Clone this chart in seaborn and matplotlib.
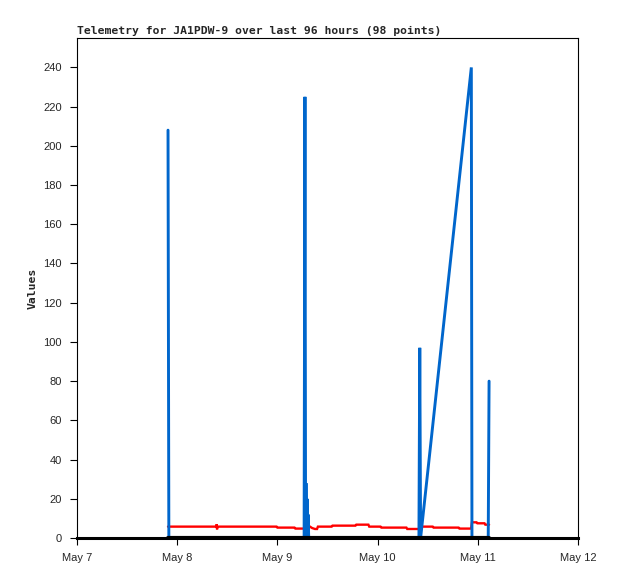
import numpy as np
import pandas as pd
import matplotlib
matplotlib.use("Agg")
import matplotlib.pyplot as plt
import matplotlib.dates as mdates
import seaborn as sns

# hours after May 7 00:00 and values
blue_hours = [21.8, 22.0, 54.4, 54.6, 54.75, 54.85, 55.0, 55.1, 55.25, 55.35, 55.5,
              81.9, 82.1, 82.3, 94.45, 94.6, 98.5, 98.7]
blue_vals = [208, 0, 0, 225, 0, 28, 0, 20, 0, 12, 0,
             0, 97, 0, 240, 0, 0, 80]

red_hours = [21.8, 33.4, 33.45, 33.55, 33.6, 47.8, 48.0, 52.1, 52.3, 54.6, 55.8,
             56.3, 57.0, 57.5, 57.7, 61.0, 61.2, 66.7, 66.9, 69.8, 70.0, 72.7,
             72.9, 78.9, 79.1, 82.0, 82.2, 85.2, 85.4, 91.4, 91.6, 94.4, 94.6,
             95.7, 95.9, 97.6, 97.8, 98.7]
red_vals = [5.8, 5.8, 7.0, 4.4, 5.8, 5.8, 5.3, 5.3, 4.8, 4.8, 5.8,
            5.1, 4.6, 4.6, 5.8, 5.8, 6.3, 6.3, 6.8, 6.8, 5.8, 5.8,
            5.3, 5.3, 4.6, 4.6, 5.8, 5.8, 5.3, 5.3, 4.8, 4.8, 8.0,
            8.0, 7.5, 7.5, 6.8, 6.8]

# third channel stays at zero the whole time
black_hours = [21.8, 98.7]
black_vals = [0, 0]

day_labels = ["May 7", "May 8", "May 9", "May 10", "May 11", "May 12"]
y_ticks = list(range(0, 241, 20))

start = pd.Timestamp("2024-05-07")
def frame(h, v):
    return pd.DataFrame({"time": start + pd.to_timedelta(h, unit="h"), "value": v})

red = frame(red_hours, red_vals)
blue = frame(blue_hours, blue_vals)
black = frame(black_hours, black_vals)

sns.set_style("white")
fig = plt.figure(figsize=(6.18, 5.79), dpi=100)
ax = fig.add_axes([77 / 618, 41 / 579, 501 / 618, 500 / 579])

sns.lineplot(data=red, x="time", y="value", color="#ff0000", lw=1.7,
             estimator=None, sort=False, ax=ax, solid_joinstyle="miter")
sns.lineplot(data=blue, x="time", y="value", color="#0066cc", lw=2.1,
             estimator=None, sort=False, ax=ax, solid_joinstyle="miter")
sns.lineplot(data=black, x="time", y="value", color="black", lw=3.0,
             estimator=None, sort=False, ax=ax)

ax.set_xlim(start, start + pd.Timedelta(days=5))
ax.set_ylim(0, 255)
ticks = [start + pd.Timedelta(days=i) for i in range(6)]
ax.set_xticks(ticks)
ax.set_xticklabels(day_labels, fontsize=8, family="Liberation Sans")
ax.set_yticks(y_ticks)
ax.set_yticklabels([str(v) for v in y_ticks], fontsize=8, family="Liberation Sans")
ax.tick_params(direction="out", length=5, width=0.8, color="black", pad=6,
               bottom=True, left=True)

for s in ax.spines.values():
    s.set_color("black")
    s.set_linewidth(0.8)
ax.spines["bottom"].set_linewidth(2.2)

ax.set_xlabel("")
ax.set_ylabel("Values", family="DejaVu Sans Mono", fontweight="bold", fontsize=8.2)
ax.yaxis.set_label_coords(-0.078, 0.5)
ax.set_title("Telemetry for JA1PDW-9 over last 96 hours (98 points)", loc="left",
             family="DejaVu Sans Mono", fontweight="bold", fontsize=8.2, pad=3)

fig.savefig("out.png", dpi=100)
